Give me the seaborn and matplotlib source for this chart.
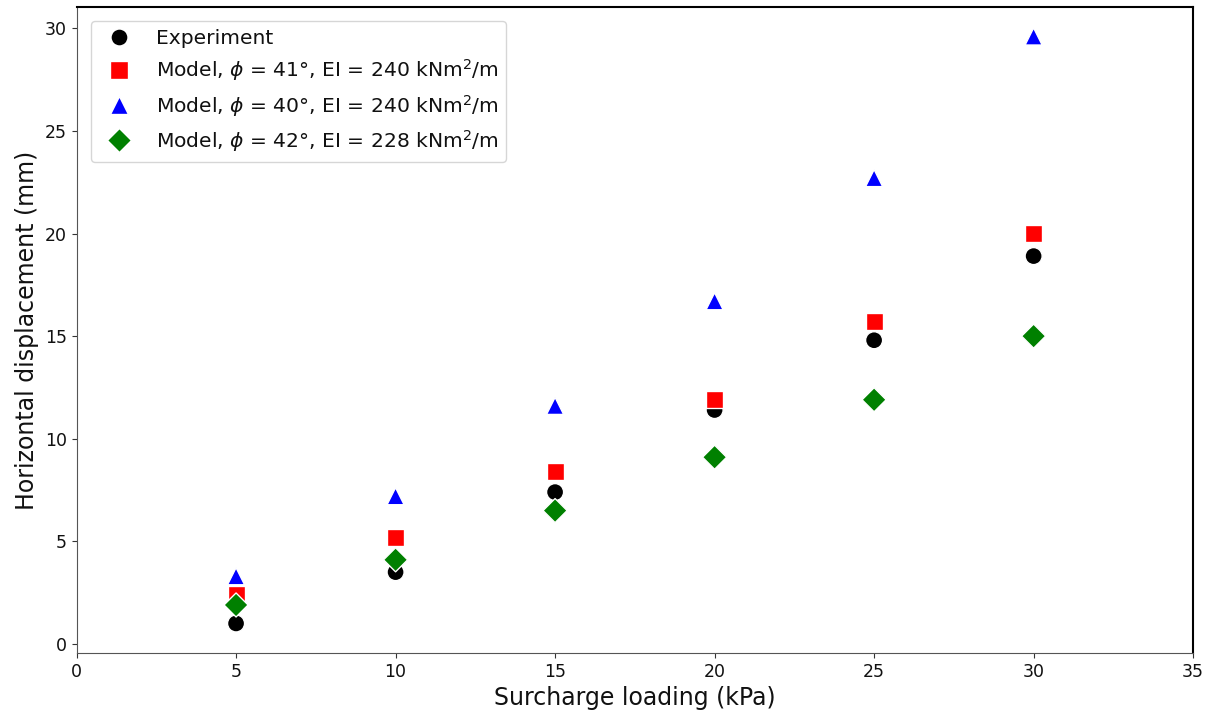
import numpy as np
import pandas as pd
import matplotlib.pyplot as plt
import seaborn as sns

# surcharge loading (kPa)
loading = [5, 10, 15, 20, 25, 30]

# horizontal displacement (mm)
experiment = [1.0, 3.5, 7.4, 11.4, 14.8, 18.9]
model_41_240 = [2.4, 5.2, 8.4, 11.9, 15.7, 20.0]
model_40_240 = [3.3, 7.2, 11.6, 16.7, 22.7, 29.6]
model_42_228 = [1.9, 4.1, 6.5, 9.1, 11.9, 15.0]

labels = ["Experiment",
          r"Model, $\phi$ = 41°, EI = 240 kNm$^2$/m",
          r"Model, $\phi$ = 40°, EI = 240 kNm$^2$/m",
          r"Model, $\phi$ = 42°, EI = 228 kNm$^2$/m"]
colors = ["black", "red", "blue", "green"]
markers = ["o", "s", "^", "D"]

series = [experiment, model_41_240, model_40_240, model_42_228]
df = pd.concat([pd.DataFrame({"Surcharge": loading, "Displacement": vals, "Series": lab})
                for lab, vals in zip(labels, series)], ignore_index=True)

sns.set_style("ticks")
plt.rcParams["text.color"] = "#111111"
plt.rcParams["axes.labelcolor"] = "#111111"
plt.rcParams["xtick.color"] = "#333333"
plt.rcParams["ytick.color"] = "#333333"

fig = plt.figure(figsize=(12.15, 7.15), dpi=100)
ax = fig.add_axes([0.063, 0.087, 0.919, 0.903])

sns.scatterplot(data=df, x="Surcharge", y="Displacement", hue="Series", style="Series",
                palette=dict(zip(labels, colors)), markers=dict(zip(labels, markers)),
                s=150, ax=ax)

ax.set_xlim(0, 35)
ax.set_xticks(np.arange(0, 36, 5))
ax.set_yticks(np.arange(0, 31, 5))
ax.tick_params(labelsize=12.5, labelcolor="#111111")
ax.set_xlabel("Surcharge loading (kPa)", fontsize=17)
ax.set_ylabel("Horizontal displacement (mm)", fontsize=17)
for side in ["left", "bottom"]:
    ax.spines[side].set_color("#555555")
for side in ["top", "right"]:
    ax.spines[side].set_visible(True)
    ax.spines[side].set_color("black")
    ax.spines[side].set_linewidth(1.5)

leg = ax.legend(loc="upper left", fontsize=14.6, frameon=True,
                handletextpad=0.8, borderaxespad=0.7, labelspacing=0.45)
leg.set_title(None)

fig.savefig("out.png", dpi=100)
